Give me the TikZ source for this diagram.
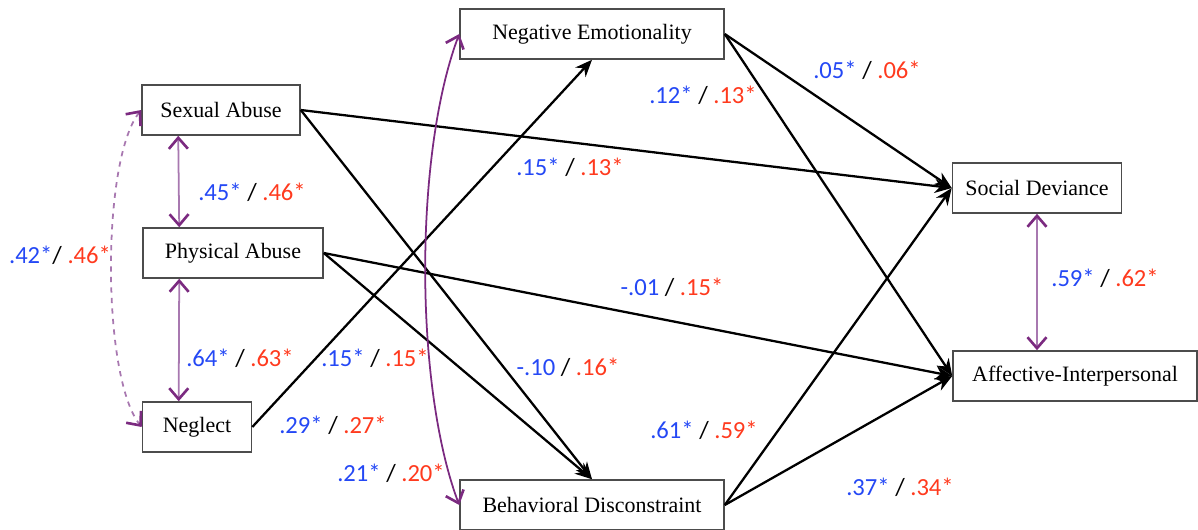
\documentclass[tikz,border=0pt]{standalone}
\usepackage{fontspec}
\setmainfont{Liberation Serif}
\newfontfamily\numfont{Carlito}
\usetikzlibrary{arrows.meta}
\definecolor{Blue}{HTML}{2448F5}
\definecolor{Red}{HTML}{FF3A1E}
\definecolor{Plum}{HTML}{7B2A80}
\definecolor{Lilac}{HTML}{A878B0}
\newcommand{\est}[2]{\textcolor{Blue}{#1} / \textcolor{Red}{#2}}

\begin{document}
\begin{tikzpicture}[x=0.02cm,y=-0.02cm,>=Stealth,
    var/.style={draw=black!70,line width=0.9pt,fill=white,minimum height=1cm,inner sep=0pt,font=\fontsize{12.5}{14}\selectfont},
    eff/.style={line width=1.3pt,-{Stealth[length=3.4mm,width=2.8mm]}},
    cov/.style={line width=1pt,draw=Lilac,{Straight Barb[Plum,length=2.2mm,width=3.8mm,line width=1.5pt]}-{Straight Barb[Plum,length=2.2mm,width=3.8mm,line width=1.5pt]}},
    coef/.style={font=\numfont\fontsize{14}{16}\selectfont,inner sep=1pt}]
  \useasboundingbox (0,0) rectangle (1198,529);
  % predictors
  \node[var,minimum width=3.16cm] (sa) at (221,110) {Sexual Abuse};
  \node[var,minimum width=3.6cm] (pa) at (233,253) {Physical Abuse};
  \node[var,minimum width=2.18cm] (neg) at (197,427) {Neglect};
  % mediators
  \node[var,minimum width=5.28cm] (ne) at (592,34) {Negative Emotionality};
  \node[var,minimum width=5.28cm] (bd) at (592,505) {Behavioral Disconstraint};
  % outcomes
  \node[var,minimum width=3.38cm] (sd) at (1037,188) {Social Deviance};
  \node[var,minimum width=4.88cm] (ai) at (1075,376) {Affective-Interpersonal};

  \draw[eff] (sa.east)--(sd.west);
  \draw[eff] (sa.east)--(bd.north);
  \draw[eff] (pa.east)--(ai.west);
  \draw[eff] (pa.east)--(bd.north);
  \draw[eff] (neg.east)--(ne.south);
  \draw[eff] (ne.east)--(sd.west);
  \draw[eff] (ne.east)--(ai.west);
  \draw[eff] (bd.east)--(sd.west);
  \draw[eff] (bd.east)--(ai.west);

  % correlations
  \draw[cov] ([xshift=0.74cm]sa.south west)--([xshift=0.74cm]pa.north west);
  \draw[cov] ([xshift=0.74cm]pa.south west)--([xshift=0.74cm]neg.north west);
  \draw[cov,dashed] (sa.west) .. controls +(-40,50) and +(-40,-50) .. (neg.west);
  \draw[cov,draw=Plum] (ne.west) .. controls +(-45,120) and +(-45,-120) .. (bd.west);
  \draw[cov] (sd.south)--(sd.south |- ai.north);

  \node[coef] (r1) at (252,192) {\est{.45*}{.46*}};
  \node[coef] (r2) at (60,255) {\textcolor{Blue}{.42*}/ \textcolor{Red}{.46*}};
  \node[coef] (r3) at (240,358) {\est{.64*}{.63*}};
  \node[coef] (r4) at (1105,278) {\est{.59*}{.62*}};
  \node[coef] (r5) at (391,473) {\est{.21*}{.20*}};
  \node[coef] (b1) at (333,425) {\est{.29*}{.27*}};
  \node[coef] (b2) at (375,358) {\est{.15*}{.15*}};
  \node[coef] (b3) at (570,167) {\est{.15*}{.13*}};
  \node[coef] (b4) at (672,287) {\est{-.01}{.15*}};
  \node[coef] (b5) at (568,367) {\est{-.10}{.16*}};
  \node[coef] (b6) at (704,430) {\est{.61*}{.59*}};
  \node[coef] (b7) at (703,95) {\est{.12*}{.13*}};
  \node[coef] (b8) at (867,70) {\est{.05*}{.06*}};
  \node[coef] (b9) at (900,487) {\est{.37*}{.34*}};
\end{tikzpicture}
\end{document}
